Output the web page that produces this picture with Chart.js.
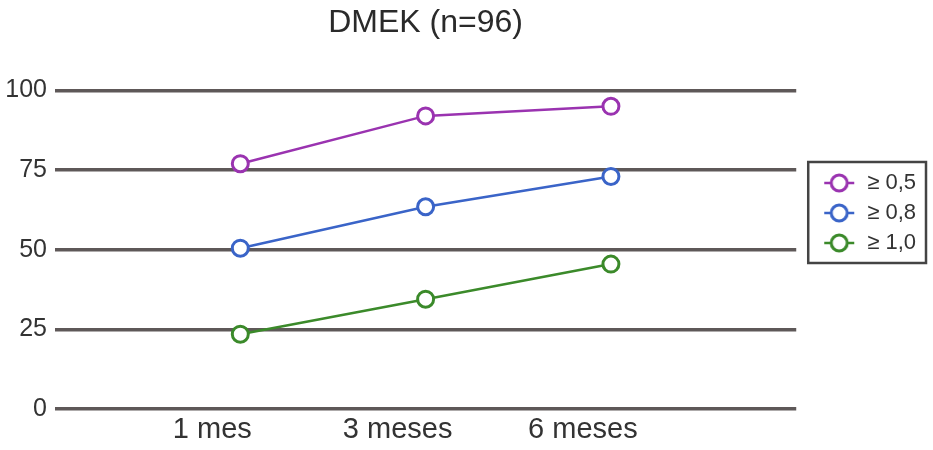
<!DOCTYPE html>
<html><head><meta charset="utf-8">
<script src="https://cdn.jsdelivr.net/npm/chart.js@4/dist/chart.umd.min.js"></script>
<style>html,body{margin:0;padding:0;background:#fff}canvas{display:block}</style>
</head><body>
<canvas id="c" width="933" height="450"></canvas>
<script>
const titleText = 'DMEK (n=96)';
const categories = ['1 mes', '3 meses', '6 meses'];
const seriesNames = ['≥ 0,5', '≥ 0,8', '≥ 1,0'];
const valuesA = [77, 92, 95];
const valuesB = [50.5, 63.5, 73];
const valuesC = [23.5, 34.5, 45.5];
const yTicks = [0, 25, 50, 75, 100];
const colors = ['#9a33b0', '#3a64c8', '#3b8a2a'];

const FONT = '"Liberation Sans", Arial, sans-serif';
const GAP = 18;

function makeMarker(color) {
  const cv = document.createElement('canvas');
  cv.width = 34 + GAP; cv.height = 22;
  const g = cv.getContext('2d');
  g.strokeStyle = color; g.lineWidth = 2.5;
  g.beginPath(); g.moveTo(GAP + 2, 11); g.lineTo(GAP + 32, 11); g.stroke();
  g.fillStyle = '#fff'; g.lineWidth = 3;
  g.beginPath(); g.arc(GAP + 17, 11, 8, 0, Math.PI * 2); g.fill(); g.stroke();
  return cv;
}
const markers = colors.map(makeMarker);

const seriesValues = [valuesA, valuesB, valuesC];
const datasets = seriesValues.map((vals, i) => ({
  label: seriesNames[i],
  data: vals.map((v, j) => ({ x: j + 1, y: v })),
  borderColor: colors[i],
  backgroundColor: '#ffffff',
  borderWidth: 2.5,
  pointRadius: 8,
  pointBorderWidth: 3,
  pointBackgroundColor: '#ffffff',
  pointBorderColor: colors[i],
  pointStyle: 'circle',
  tension: 0
}));

const legendBorder = {
  id: 'legendBorder',
  afterDraw(chart) {
    const lg = chart.legend;
    if (!lg || !lg.legendHitBoxes || !lg.legendHitBoxes.length) return;
    const hb = lg.legendHitBoxes;
    let l = Infinity, t = Infinity, r = -Infinity, b = -Infinity;
    hb.forEach(h => { l = Math.min(l, h.left); t = Math.min(t, h.top); r = Math.max(r, h.left + h.width); b = Math.max(b, h.top + h.height); });
    l += GAP;
    const ctx = chart.ctx;
    ctx.save();
    ctx.strokeStyle = '#444';
    ctx.lineWidth = 2.5;
    ctx.strokeRect(l - 14, t - 10, (r - l) + 24, (b - t) + 19);
    ctx.restore();
  }
};

new Chart(document.getElementById('c'), {
  type: 'line',
  data: { datasets },
  plugins: [legendBorder],
  options: {
    responsive: false,
    animation: false,
    devicePixelRatio: 1,
    layout: { padding: { left: 0, right: 7, top: 0, bottom: 0 } },
    plugins: {
      title: {
        display: true, text: titleText, fullSize: false,
        color: '#2a2a2a',
        font: { family: FONT, size: 32, weight: 'normal' },
        padding: { top: 4, bottom: 48 }
      },
      legend: {
        position: 'right',
        align: 'start',
        title: { display: true, text: ' ', font: { size: 10 }, padding: { top: 152, bottom: 0 } },
        labels: {
          usePointStyle: true,
          pointStyleWidth: 34 + GAP,
          boxHeight: 22,
          padding: 8,
          color: '#333',
          font: { family: FONT, size: 22 },
          generateLabels(chart) {
            return chart.data.datasets.map((ds, i) => ({
              text: ds.label,
              pointStyle: markers[i],
              fillStyle: '#fff',
              strokeStyle: colors[i],
              lineWidth: 0,
              fontColor: '#333',
              datasetIndex: i,
              hidden: false
            }));
          }
        }
      },
      tooltip: { enabled: false }
    },
    scales: {
      x: {
        type: 'linear', min: 0, max: 4,
        afterBuildTicks(axis) { axis.ticks = categories.map((c, j) => ({ value: j + 1 })); },
        grid: { display: false, drawTicks: false },
        border: { display: false },
        ticks: {
          color: '#333',
          font: { family: FONT, size: 29, lineHeight: 0.72 },
          padding: 10,
          labelOffset: -28,
          maxRotation: 0,
          callback: (v) => categories[v - 1] || ''
        }
      },
      y: {
        min: 0, max: 100,
        afterBuildTicks(axis) { axis.ticks = yTicks.map(v => ({ value: v })); },
        afterFit(axis) { axis.width = 55; },
        grid: { color: '#5e5858', lineWidth: 3.5, drawTicks: false },
        border: { display: false },
        ticks: {
          color: '#333',
          font: { family: FONT, size: 25 },
          padding: 8
        }
      }
    }
  }
});
</script>
</body></html>
